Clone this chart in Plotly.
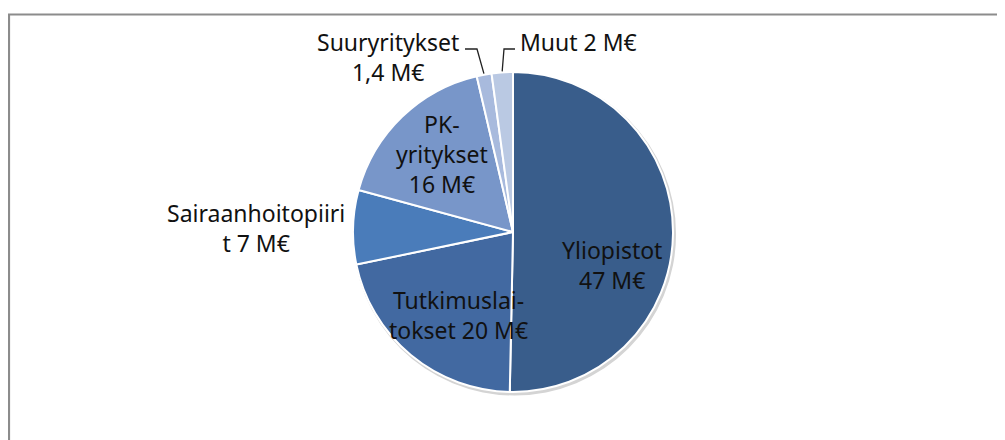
import math
import plotly.graph_objects as go

# ---- data ----
labels = ["Yliopistot", "Tutkimuslaitokset", "Sairaanhoitopiirit", "PK-yritykset", "Suuryritykset", "Muut"]
values = [47, 20, 7, 16, 1.4, 2]
label_texts = ["Yliopistot<br>47 M€", "Tutkimuslai-<br>tokset 20 M€", "Sairaanhoitopiiri<br>t 7 M€",
               "PK-<br>yritykset<br>16 M€", "Suuryritykset<br>1,4 M€", "Muut 2 M€"]
colors = ["#395D8B", "#4269A1", "#4A7CBA", "#7896C9", "#A8BADD", "#BAC9E3"]

# ---- layout geometry (page pixels; the page body has an 8px margin) ----
OFF = 8
W, H = 1005 - OFF, 440 - OFF
CX, CY, R = 513, 232, 160
FONT = dict(family="Noto Sans, Open Sans, sans-serif", size=23, color="#111111")

# label anchor positions (px) and anchors
label_pos = {
    "Yliopistot": (612, 265, "center"),
    "Tutkimuslaitokset": (458, 315, "center"),
    "Sairaanhoitopiirit": (256, 228, "center"),
    "PK-yritykset": (442, 154, "center"),
    "Suuryritykset": (388, 57, "center"),
    "Muut": (518, 42, "left"),
}
# leader lines: (elbow x px, elbow y px, end x px)
leaders = {
    "Suuryritykset": (477, 49, 465),
    "Muut": (504, 49, 515),
}


def px(x):
    return (x - OFF) / W


def py(y):
    return 1 - (y - OFF) / H


fig = go.Figure()

# subtle shadow behind the pie
fig.add_trace(go.Pie(
    values=[1], marker=dict(colors=["#d4d4d4"], line=dict(width=0)),
    textinfo="none", hoverinfo="skip", showlegend=False, sort=False,
    domain=dict(x=[px(CX + 1.5 - R - 1.5), px(CX + 1.5 + R + 1.5)],
                y=[py(CY + 2 + R + 1.5), py(CY + 2 - R - 1.5)]),
))

fig.add_trace(go.Pie(
    labels=labels, values=values, sort=False, direction="clockwise", rotation=0,
    marker=dict(colors=colors, line=dict(color="white", width=2)),
    textinfo="none", hoverinfo="label+value", showlegend=False,
    domain=dict(x=[px(CX - R), px(CX + R)], y=[py(CY + R), py(CY - R)]),
))

annotations = []
for lab, txt in zip(labels, label_texts):
    x, y, anc = label_pos[lab]
    annotations.append(dict(x=px(x), y=py(y), xref="paper", yref="paper", text=txt,
                            showarrow=False, xanchor=anc, yanchor="middle", font=FONT, align="center"))

shapes = [dict(type="rect", xref="paper", yref="paper", x0=px(9), x1=1.02, y0=-0.02, y1=py(14.5),
               line=dict(color="#8c8c8c", width=2.2), fillcolor="rgba(0,0,0,0)", layer="below")]

total = sum(values)
cum = 0
for lab, v in zip(labels, values):
    mid = (cum + v / 2) / total * 2 * math.pi
    cum += v
    if lab in leaders:
        ex, ey, endx = leaders[lab]
        sx = CX + (R + 1) * math.sin(mid)
        sy = CY - (R + 1) * math.cos(mid)
        path = f"M {px(sx)},{py(sy)} L {px(ex)},{py(ey)} L {px(endx)},{py(ey)}"
        shapes.append(dict(type="path", xref="paper", yref="paper", path=path,
                           line=dict(color="#222222", width=1.3)))

fig.update_layout(
    width=W, height=H, margin=dict(l=0, r=0, t=0, b=0),
    paper_bgcolor="white", plot_bgcolor="white",
    annotations=annotations, shapes=shapes,
)

fig.write_html("out.html")
